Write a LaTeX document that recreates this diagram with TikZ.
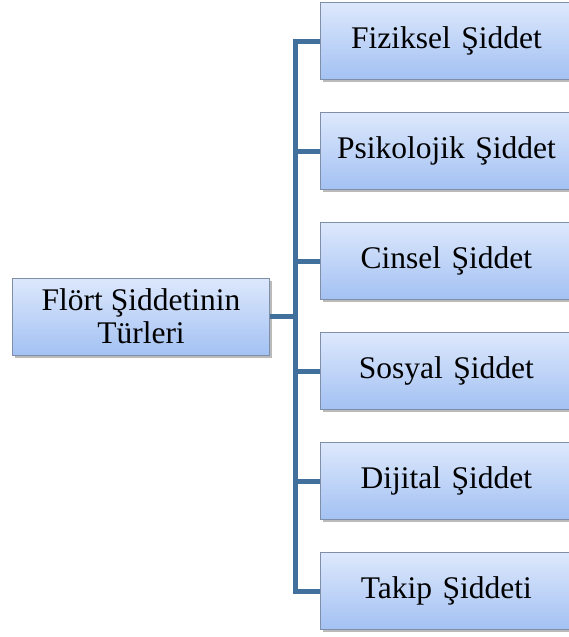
\documentclass[tikz,border=0pt]{standalone}
\usepackage{fontspec}
\setmainfont{Liberation Serif}
\usetikzlibrary{shadows}
\definecolor{linkblue}{HTML}{41709C}
\definecolor{boxtop}{HTML}{DDE8FC}
\definecolor{boxbot}{HTML}{A3C1F3}
\definecolor{boxline}{HTML}{7F8FA8}
\tikzset{
  catbox/.style={draw=boxline, line width=0.8pt, top color=boxtop, bottom color=boxbot,
    drop shadow={shadow xshift=2.5pt, shadow yshift=-2.5pt, opacity=0.45, fill=black!60},
    minimum height=77pt, inner sep=0pt, align=center,
    font=\fontsize{31.5}{33}\selectfont},
  leftbox/.style={catbox, minimum width=257pt},
  rightbox/.style={catbox, minimum width=260pt, text width=248pt, anchor=west},
  link/.style={draw=linkblue, line width=5pt}
}
\begin{document}
\begin{tikzpicture}[x=1pt,y=-1pt]
\useasboundingbox (0,0) rectangle (568,637);
\node[leftbox] (root) at (141,316.5) {Flört Şiddetinin\\Türleri};
\node[rightbox] (r1) at (320,41) {\hspace*{-8pt}Fiziksel Şiddet};
\node[rightbox] (r2) at (320,151) {\hspace*{-8pt}Psikolojik Şiddet};
\node[rightbox] (r3) at (320,261) {\hspace*{-8pt}Cinsel Şiddet};
\node[rightbox] (r4) at (320,371) {\hspace*{-8pt}Sosyal Şiddet};
\node[rightbox] (r5) at (320,481) {\hspace*{-8pt}Dijital Şiddet};
\node[rightbox] (r6) at (320,591) {\hspace*{-8pt}Takip Şiddeti};
\coordinate (trunk) at (295.5,316.5);
\draw[link] (root.east) -- (trunk);
\foreach \n in {r1,r2,r3,r4,r5,r6}{
  \draw[link] (trunk) -- (trunk |- \n.west) -- (\n.west);
}
\end{tikzpicture}
\end{document}
